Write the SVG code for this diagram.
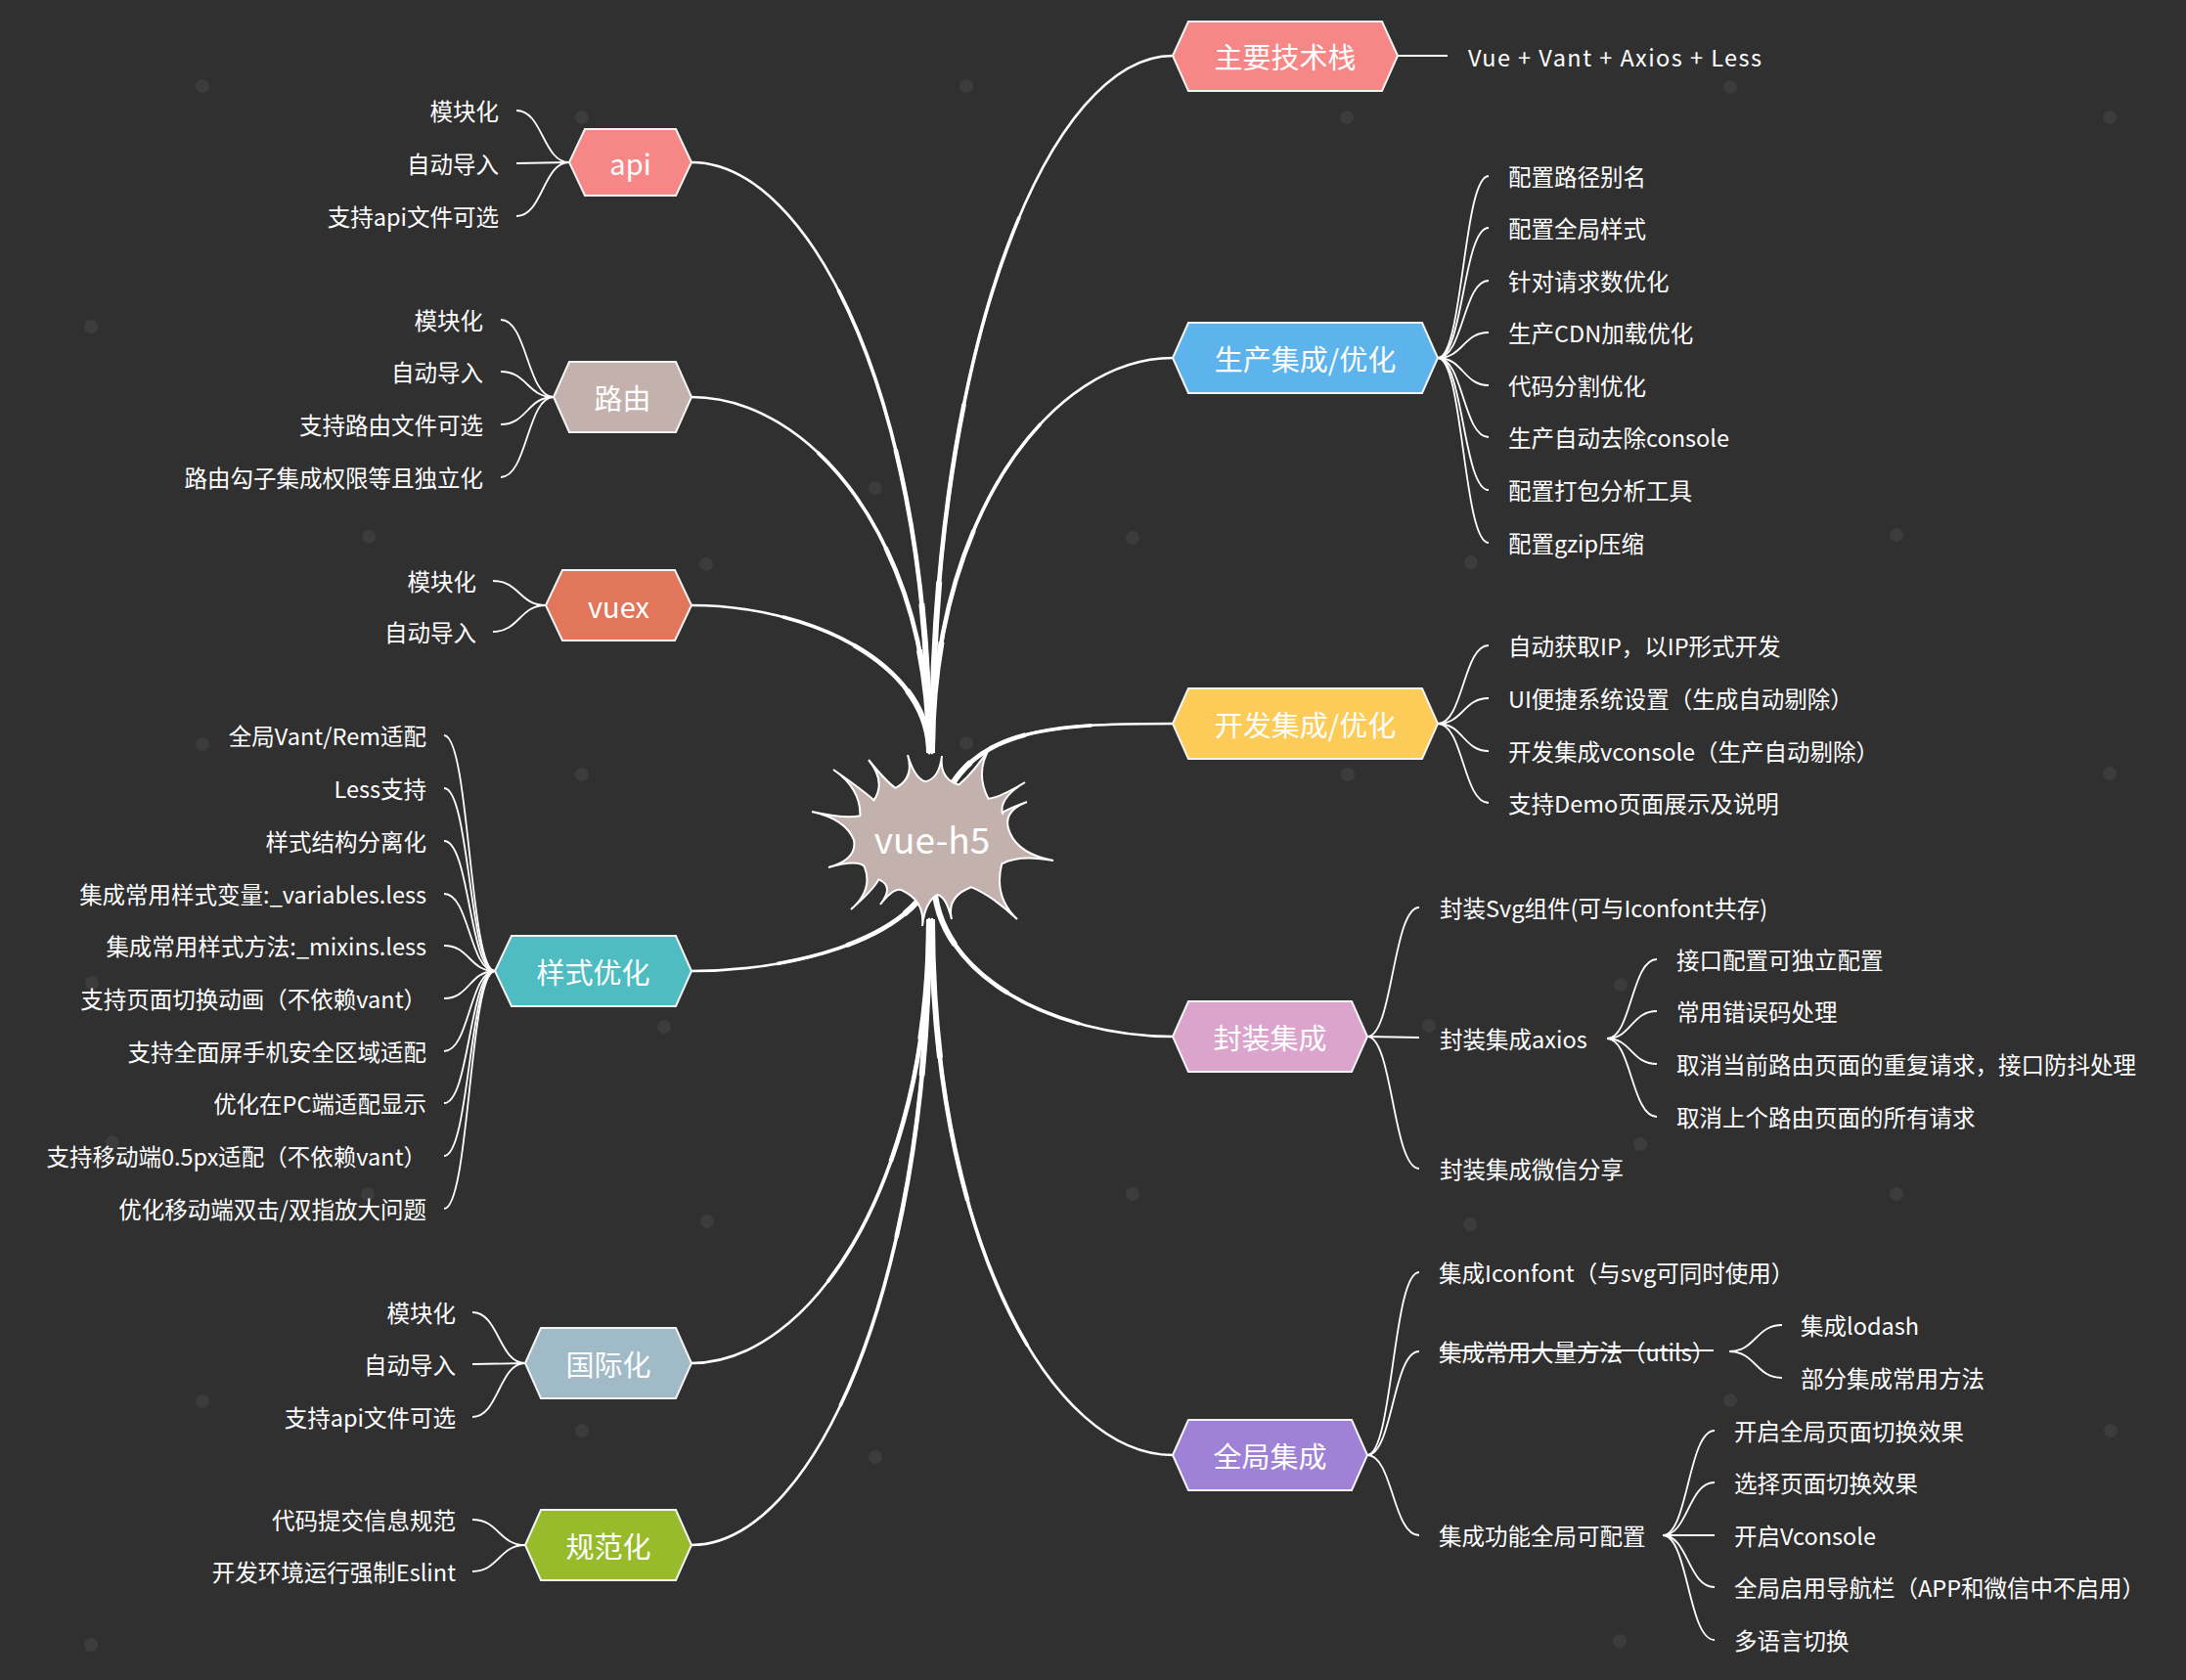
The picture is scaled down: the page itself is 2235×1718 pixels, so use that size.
<svg xmlns="http://www.w3.org/2000/svg" width="2235" height="1718" viewBox="0 0 2235 1718">
<defs>
<style>
.bg{fill:#303030}
.dot{fill:#3c3c3c}
.hex{stroke:#f4f4f4;stroke-width:2}
.nt{font-family:"Noto Sans CJK SC","Microsoft YaHei",sans-serif;font-size:29px;fill:#fff;text-anchor:middle;dominant-baseline:central}
.t{font-family:"Noto Sans CJK SC","Microsoft YaHei",sans-serif;font-size:23.5px;fill:#fff;dominant-baseline:central}
.r{text-anchor:end}
.sub{fill:none;stroke:#fff;stroke-width:1.8}
.m0{fill:none;stroke:#fff;stroke-width:2.6;stroke-linecap:round}
.m1{fill:none;stroke:#fff;stroke-width:3.6;stroke-dasharray:70 200}
.m2{fill:none;stroke:#fff;stroke-width:4.6;stroke-dasharray:45 200}
.m3{fill:none;stroke:#fff;stroke-width:6;stroke-dasharray:22 200}
</style>
<path id="b1" pathLength="100" d="M950,770 C950,408 828,166 707,166"/>
<path id="b2" pathLength="100" d="M950,770 C950,552 828,406 707,406"/>
<path id="b3" pathLength="100" d="M950,770 C950,679 828,619 707,619"/>
<path id="b4" pathLength="100" d="M955,880 C955,948 831,993 707,993"/>
<path id="b5" pathLength="100" d="M950,940 C950,1212 828,1394 707,1394"/>
<path id="b6" pathLength="100" d="M950,940 C950,1324 828,1580 707,1580"/>
<path id="b7" pathLength="100" d="M953,770 C953,342 1076,57 1199,57"/>
<path id="b8" pathLength="100" d="M953,770 C953,528 1076,366 1199,366"/>
<path id="b9" pathLength="100" d="M960,830 C990,745 1070,740 1199,740"/>
<path id="b10" pathLength="100" d="M955,900 C955,996 1077,1060 1199,1060"/>
<path id="b11" pathLength="100" d="M953,940 C953,1269 1076,1488 1199,1488"/>
</defs>
<rect class="bg" x="0" y="0" width="2235" height="1718"/>
<g id="background-dots">
<circle class="dot" cx="207" cy="88" r="7"/><circle class="dot" cx="988" cy="88" r="7"/><circle class="dot" cx="1769" cy="89" r="7"/>
<circle class="dot" cx="2157" cy="120" r="7"/><circle class="dot" cx="1377" cy="120" r="7"/><circle class="dot" cx="595" cy="120" r="7"/>
<circle class="dot" cx="93" cy="334" r="7"/><circle class="dot" cx="895" cy="499" r="7"/><circle class="dot" cx="1939" cy="547" r="7"/>
<circle class="dot" cx="722" cy="577" r="7"/><circle class="dot" cx="377" cy="549" r="7"/><circle class="dot" cx="1158" cy="550" r="7"/>
<circle class="dot" cx="1504" cy="575" r="7"/><circle class="dot" cx="207" cy="761" r="7"/><circle class="dot" cx="595" cy="792" r="7"/>
<circle class="dot" cx="988" cy="760" r="7"/><circle class="dot" cx="1378" cy="792" r="7"/><circle class="dot" cx="2157" cy="791" r="7"/>
<circle class="dot" cx="94" cy="1005" r="7"/><circle class="dot" cx="1657" cy="1007" r="7"/><circle class="dot" cx="679" cy="1050" r="7"/>
<circle class="dot" cx="1461" cy="1049" r="7"/><circle class="dot" cx="115" cy="1168" r="7"/><circle class="dot" cx="1677" cy="1170" r="7"/>
<circle class="dot" cx="376" cy="1221" r="7"/><circle class="dot" cx="1158" cy="1221" r="7"/><circle class="dot" cx="1939" cy="1221" r="7"/>
<circle class="dot" cx="723" cy="1249" r="7"/><circle class="dot" cx="1503" cy="1252" r="7"/><circle class="dot" cx="207" cy="1433" r="7"/>
<circle class="dot" cx="1769" cy="1432" r="7"/><circle class="dot" cx="595" cy="1463" r="7"/><circle class="dot" cx="895" cy="1490" r="7"/>
<circle class="dot" cx="2158" cy="1463" r="7"/><circle class="dot" cx="1656" cy="1678" r="7"/><circle class="dot" cx="93" cy="1682" r="7"/>
</g>
<g id="connectors">
<g id="main-branches">
<use href="#b1" class="m0"/><use href="#b1" class="m1"/><use href="#b1" class="m2"/><use href="#b1" class="m3"/>
<use href="#b2" class="m0"/><use href="#b2" class="m1"/><use href="#b2" class="m2"/><use href="#b2" class="m3"/>
<use href="#b3" class="m0"/><use href="#b3" class="m1"/><use href="#b3" class="m2"/><use href="#b3" class="m3"/>
<use href="#b4" class="m0"/><use href="#b4" class="m1"/><use href="#b4" class="m2"/><use href="#b4" class="m3"/>
<use href="#b5" class="m0"/><use href="#b5" class="m1"/><use href="#b5" class="m2"/><use href="#b5" class="m3"/>
<use href="#b6" class="m0"/><use href="#b6" class="m1"/><use href="#b6" class="m2"/><use href="#b6" class="m3"/>
<use href="#b7" class="m0"/><use href="#b7" class="m1"/><use href="#b7" class="m2"/><use href="#b7" class="m3"/>
<use href="#b8" class="m0"/><use href="#b8" class="m1"/><use href="#b8" class="m2"/><use href="#b8" class="m3"/>
<use href="#b9" class="m0"/><use href="#b9" class="m1"/><use href="#b9" class="m2"/><use href="#b9" class="m3"/>
<use href="#b10" class="m0"/><use href="#b10" class="m1"/><use href="#b10" class="m2"/><use href="#b10" class="m3"/>
<use href="#b11" class="m0"/><use href="#b11" class="m1"/><use href="#b11" class="m2"/><use href="#b11" class="m3"/>
</g>
<g id="sub-branches">
<path class="sub" d="M582,166 C555,166 555,113 528,113"/>
<path class="sub" d="M582,166 L528,167"/>
<path class="sub" d="M582,166 C555,166 555,221 528,221"/>
<path class="sub" d="M566,406 C539,406 539,327 512,327"/>
<path class="sub" d="M566,406 C539,406 539,380 512,380"/>
<path class="sub" d="M566,406 C539,406 539,434 512,434"/>
<path class="sub" d="M566,406 C539,406 539,488 512,488"/>
<path class="sub" d="M558,619 C531,619 531,594 504,594"/>
<path class="sub" d="M558,619 C531,619 531,646 504,646"/>
<path class="sub" d="M506,993 C480,993 480,752 454,752"/>
<path class="sub" d="M506,993 C480,993 480,806 454,806"/>
<path class="sub" d="M506,993 C480,993 480,860 454,860"/>
<path class="sub" d="M506,993 C480,993 480,914 454,914"/>
<path class="sub" d="M506,993 C480,993 480,967 454,967"/>
<path class="sub" d="M506,993 C480,993 480,1021 454,1021"/>
<path class="sub" d="M506,993 C480,993 480,1075 454,1075"/>
<path class="sub" d="M506,993 C480,993 480,1128 454,1128"/>
<path class="sub" d="M506,993 C480,993 480,1182 454,1182"/>
<path class="sub" d="M506,993 C480,993 480,1236 454,1236"/>
<path class="sub" d="M537,1394 C510,1394 510,1342 483,1342"/>
<path class="sub" d="M537,1394 L483,1395"/>
<path class="sub" d="M537,1394 C510,1394 510,1449 483,1449"/>
<path class="sub" d="M537,1580 C510,1580 510,1554 483,1554"/>
<path class="sub" d="M537,1580 C510,1580 510,1607 483,1607"/>
<path class="sub" d="M1429,57 L1480,57"/>
<path class="sub" d="M1470,366 C1496,366 1496,180 1522,180"/>
<path class="sub" d="M1470,366 C1496,366 1496,233 1522,233"/>
<path class="sub" d="M1470,366 C1496,366 1496,287 1522,287"/>
<path class="sub" d="M1470,366 C1496,366 1496,340 1522,340"/>
<path class="sub" d="M1470,366 C1496,366 1496,394 1522,394"/>
<path class="sub" d="M1470,366 C1496,366 1496,447 1522,447"/>
<path class="sub" d="M1470,366 C1496,366 1496,501 1522,501"/>
<path class="sub" d="M1470,366 C1496,366 1496,555 1522,555"/>
<path class="sub" d="M1470,740 C1496,740 1496,660 1522,660"/>
<path class="sub" d="M1470,740 C1496,740 1496,714 1522,714"/>
<path class="sub" d="M1470,740 C1496,740 1496,768 1522,768"/>
<path class="sub" d="M1470,740 C1496,740 1496,821 1522,821"/>
<path class="sub" d="M1398,1060 C1424,1060 1424,928 1451,928"/>
<path class="sub" d="M1398,1060 L1451,1061"/>
<path class="sub" d="M1398,1060 C1424,1060 1424,1195 1451,1195"/>
<path class="sub" d="M1643,1062 C1668,1062 1668,981 1694,981"/>
<path class="sub" d="M1643,1062 C1668,1062 1668,1034 1694,1034"/>
<path class="sub" d="M1643,1062 C1668,1062 1668,1088 1694,1088"/>
<path class="sub" d="M1643,1062 C1668,1062 1668,1142 1694,1142"/>
<path class="sub" d="M1398,1488 C1424,1488 1424,1301 1451,1301"/>
<path class="sub" d="M1398,1488 C1424,1488 1424,1382 1451,1382"/>
<path class="sub" d="M1398,1488 C1424,1488 1424,1570 1451,1570"/>
<path class="sub" d="M1768,1382 C1795,1382 1795,1355 1822,1355"/>
<path class="sub" d="M1768,1382 C1795,1382 1795,1409 1822,1409"/>
<path class="sub" d="M1700,1570 C1726,1570 1726,1463 1753,1463"/>
<path class="sub" d="M1700,1570 C1726,1570 1726,1516 1753,1516"/>
<path class="sub" d="M1700,1570 L1753,1570"/>
<path class="sub" d="M1700,1570 C1726,1570 1726,1623 1753,1623"/>
<path class="sub" d="M1700,1570 C1726,1570 1726,1677 1753,1677"/>
</g>
</g>
<g id="center">
<path fill="#c3b1ae" stroke="#fff" stroke-width="2" d="M873,859 Q864.4,837.6 830,830 Q864.4,837.6 879.4,834.3 Q880.3,806.6 852,787 Q880.3,806.6 893.5,818.2 Q906.2,799.4 888,777 Q906.2,799.4 915.5,805.8 Q935,795.8 928,772 Q935,795.8 946,799.2 Q960.2,796.5 963,773 Q960.2,796.5 980.4,802.5 Q996.2,789.3 1013,763 Q996.2,789.3 1010.5,816.7 Q1021.4,816 1048,800 Q1021.4,816 1024.9,831.6 Q1022.8,830.4 1050,820 Q1022.8,830.4 1032.7,852 Q1042.3,873.6 1077,880 Q1042.3,873.6 1024.3,883.3 Q1015.6,916.8 1040,940 Q1015.6,916.8 993,907.2 Q967.4,916.8 973,940 Q967.4,916.8 958.6,914.9 Q945.8,921.8 943,947 Q945.8,921.8 923,910.8 Q914.8,906 900,925 Q914.8,906 898.4,899.4 Q893.2,909.6 870,930 Q893.2,909.6 883.7,886 Q876.7,878.6 847,887 Q876.7,878.6 873,859 Z"/>
<text class="nt" x="953" y="857" style="font-size:37px">vue-h5</text>
</g>
<g id="node-api">
<polygon class="hex" fill="#f78686" points="582,166 598,132 691,132 707,166 691,200 598,200"/>
<text class="nt" x="644.5" y="166">api</text>
<text class="t r" x="510" y="113">模块化</text>
<text class="t r" x="510" y="167">自动导入</text>
<text class="t r" x="510" y="221">支持api文件可选</text>
</g>
<g id="node-router">
<polygon class="hex" fill="#c3b1ae" points="566,406 582,370 691,370 707,406 691,442 582,442"/>
<text class="nt" x="636.5" y="406">路由</text>
<text class="t r" x="494" y="327">模块化</text>
<text class="t r" x="494" y="380">自动导入</text>
<text class="t r" x="494" y="434">支持路由文件可选</text>
<text class="t r" x="494" y="488">路由勾子集成权限等且独立化</text>
</g>
<g id="node-vuex">
<polygon class="hex" fill="#e1765a" points="558,619 575,583 690,583 707,619 690,655 575,655"/>
<text class="nt" x="632.5" y="619">vuex</text>
<text class="t r" x="487" y="594">模块化</text>
<text class="t r" x="487" y="646">自动导入</text>
</g>
<g id="node-style">
<polygon class="hex" fill="#4ebcc0" points="506,993 523,957 691,957 707,993 691,1029 523,1029"/>
<text class="nt" x="606.5" y="993">样式优化</text>
<text class="t r" x="436" y="752">全局Vant/Rem适配</text>
<text class="t r" x="436" y="806">Less支持</text>
<text class="t r" x="436" y="860">样式结构分离化</text>
<text class="t r" x="436" y="914">集成常用样式变量:_variables.less</text>
<text class="t r" x="436" y="967">集成常用样式方法:_mixins.less</text>
<text class="t r" x="436" y="1021">支持页面切换动画（不依赖vant）</text>
<text class="t r" x="436" y="1075">支持全面屏手机安全区域适配</text>
<text class="t r" x="436" y="1128">优化在PC端适配显示</text>
<text class="t r" x="436" y="1182">支持移动端0.5px适配（不依赖vant）</text>
<text class="t r" x="436" y="1236">优化移动端双击/双指放大问题</text>
</g>
<g id="node-i18n">
<polygon class="hex" fill="#a0bac7" points="537,1394 553,1358 691,1358 707,1394 691,1430 553,1430"/>
<text class="nt" x="622" y="1394">国际化</text>
<text class="t r" x="466" y="1342">模块化</text>
<text class="t r" x="466" y="1395">自动导入</text>
<text class="t r" x="466" y="1449">支持api文件可选</text>
</g>
<g id="node-lint">
<polygon class="hex" fill="#98bb2b" points="537,1580 553,1544 691,1544 707,1580 691,1616 553,1616"/>
<text class="nt" x="622" y="1580">规范化</text>
<text class="t r" x="466" y="1554">代码提交信息规范</text>
<text class="t r" x="466" y="1607">开发环境运行强制Eslint</text>
</g>
<g id="node-stack">
<polygon class="hex" fill="#f78686" points="1199,57 1215,22 1413,22 1429,57 1413,93 1215,93"/>
<text class="nt" x="1314" y="57">主要技术栈</text>
<text class="t" x="1501" y="58" textLength="300" lengthAdjust="spacing">Vue + Vant + Axios + Less</text>
</g>
<g id="node-prod">
<polygon class="hex" fill="#5db4ec" points="1199,366 1215,330 1454,330 1470,366 1454,402 1215,402"/>
<text class="nt" x="1334.5" y="366">生产集成/优化</text>
<text class="t" x="1542" y="180">配置路径别名</text>
<text class="t" x="1542" y="233">配置全局样式</text>
<text class="t" x="1542" y="287">针对请求数优化</text>
<text class="t" x="1542" y="340">生产CDN加载优化</text>
<text class="t" x="1542" y="394">代码分割优化</text>
<text class="t" x="1542" y="447">生产自动去除console</text>
<text class="t" x="1542" y="501">配置打包分析工具</text>
<text class="t" x="1542" y="555">配置gzip压缩</text>
</g>
<g id="node-dev">
<polygon class="hex" fill="#fdcb58" points="1199,740 1215,704 1454,704 1470,740 1454,776 1215,776"/>
<text class="nt" x="1334.5" y="740">开发集成/优化</text>
<text class="t" x="1542" y="660">自动获取IP，以IP形式开发</text>
<text class="t" x="1542" y="714">UI便捷系统设置（生成自动剔除）</text>
<text class="t" x="1542" y="768">开发集成vconsole（生产自动剔除）</text>
<text class="t" x="1542" y="821">支持Demo页面展示及说明</text>
</g>
<g id="node-wrap">
<polygon class="hex" fill="#dba4cd" points="1199,1060 1215,1024 1382,1024 1398,1060 1382,1096 1215,1096"/>
<text class="nt" x="1298.5" y="1060">封装集成</text>
<text class="t" x="1472" y="928">封装Svg组件(可与Iconfont共存)</text>
<text class="t" x="1472" y="1062">封装集成axios</text>
<text class="t" x="1472" y="1195">封装集成微信分享</text>
<text class="t" x="1714" y="981">接口配置可独立配置</text>
<text class="t" x="1714" y="1034">常用错误码处理</text>
<text class="t" x="1714" y="1088">取消当前路由页面的重复请求，接口防抖处理</text>
<text class="t" x="1714" y="1142">取消上个路由页面的所有请求</text>
</g>
<g id="node-global">
<polygon class="hex" fill="#9f81d8" points="1199,1488 1215,1452 1382,1452 1398,1488 1382,1524 1215,1524"/>
<text class="nt" x="1298.5" y="1488">全局集成</text>
<text class="t" x="1471" y="1301">集成Iconfont（与svg可同时使用）</text>
<text class="t" x="1471" y="1382">集成常用大量方法（utils）</text>
<line x1="1472" y1="1381" x2="1752" y2="1381" stroke="#fff" stroke-width="1.8"/>
<text class="t" x="1471" y="1570">集成功能全局可配置</text>
<text class="t" x="1841" y="1355">集成lodash</text>
<text class="t" x="1841" y="1409">部分集成常用方法</text>
<text class="t" x="1773" y="1463">开启全局页面切换效果</text>
<text class="t" x="1773" y="1516">选择页面切换效果</text>
<text class="t" x="1773" y="1570">开启Vconsole</text>
<text class="t" x="1773" y="1623">全局启用导航栏（APP和微信中不启用）</text>
<text class="t" x="1773" y="1677">多语言切换</text>
</g>
</svg>
